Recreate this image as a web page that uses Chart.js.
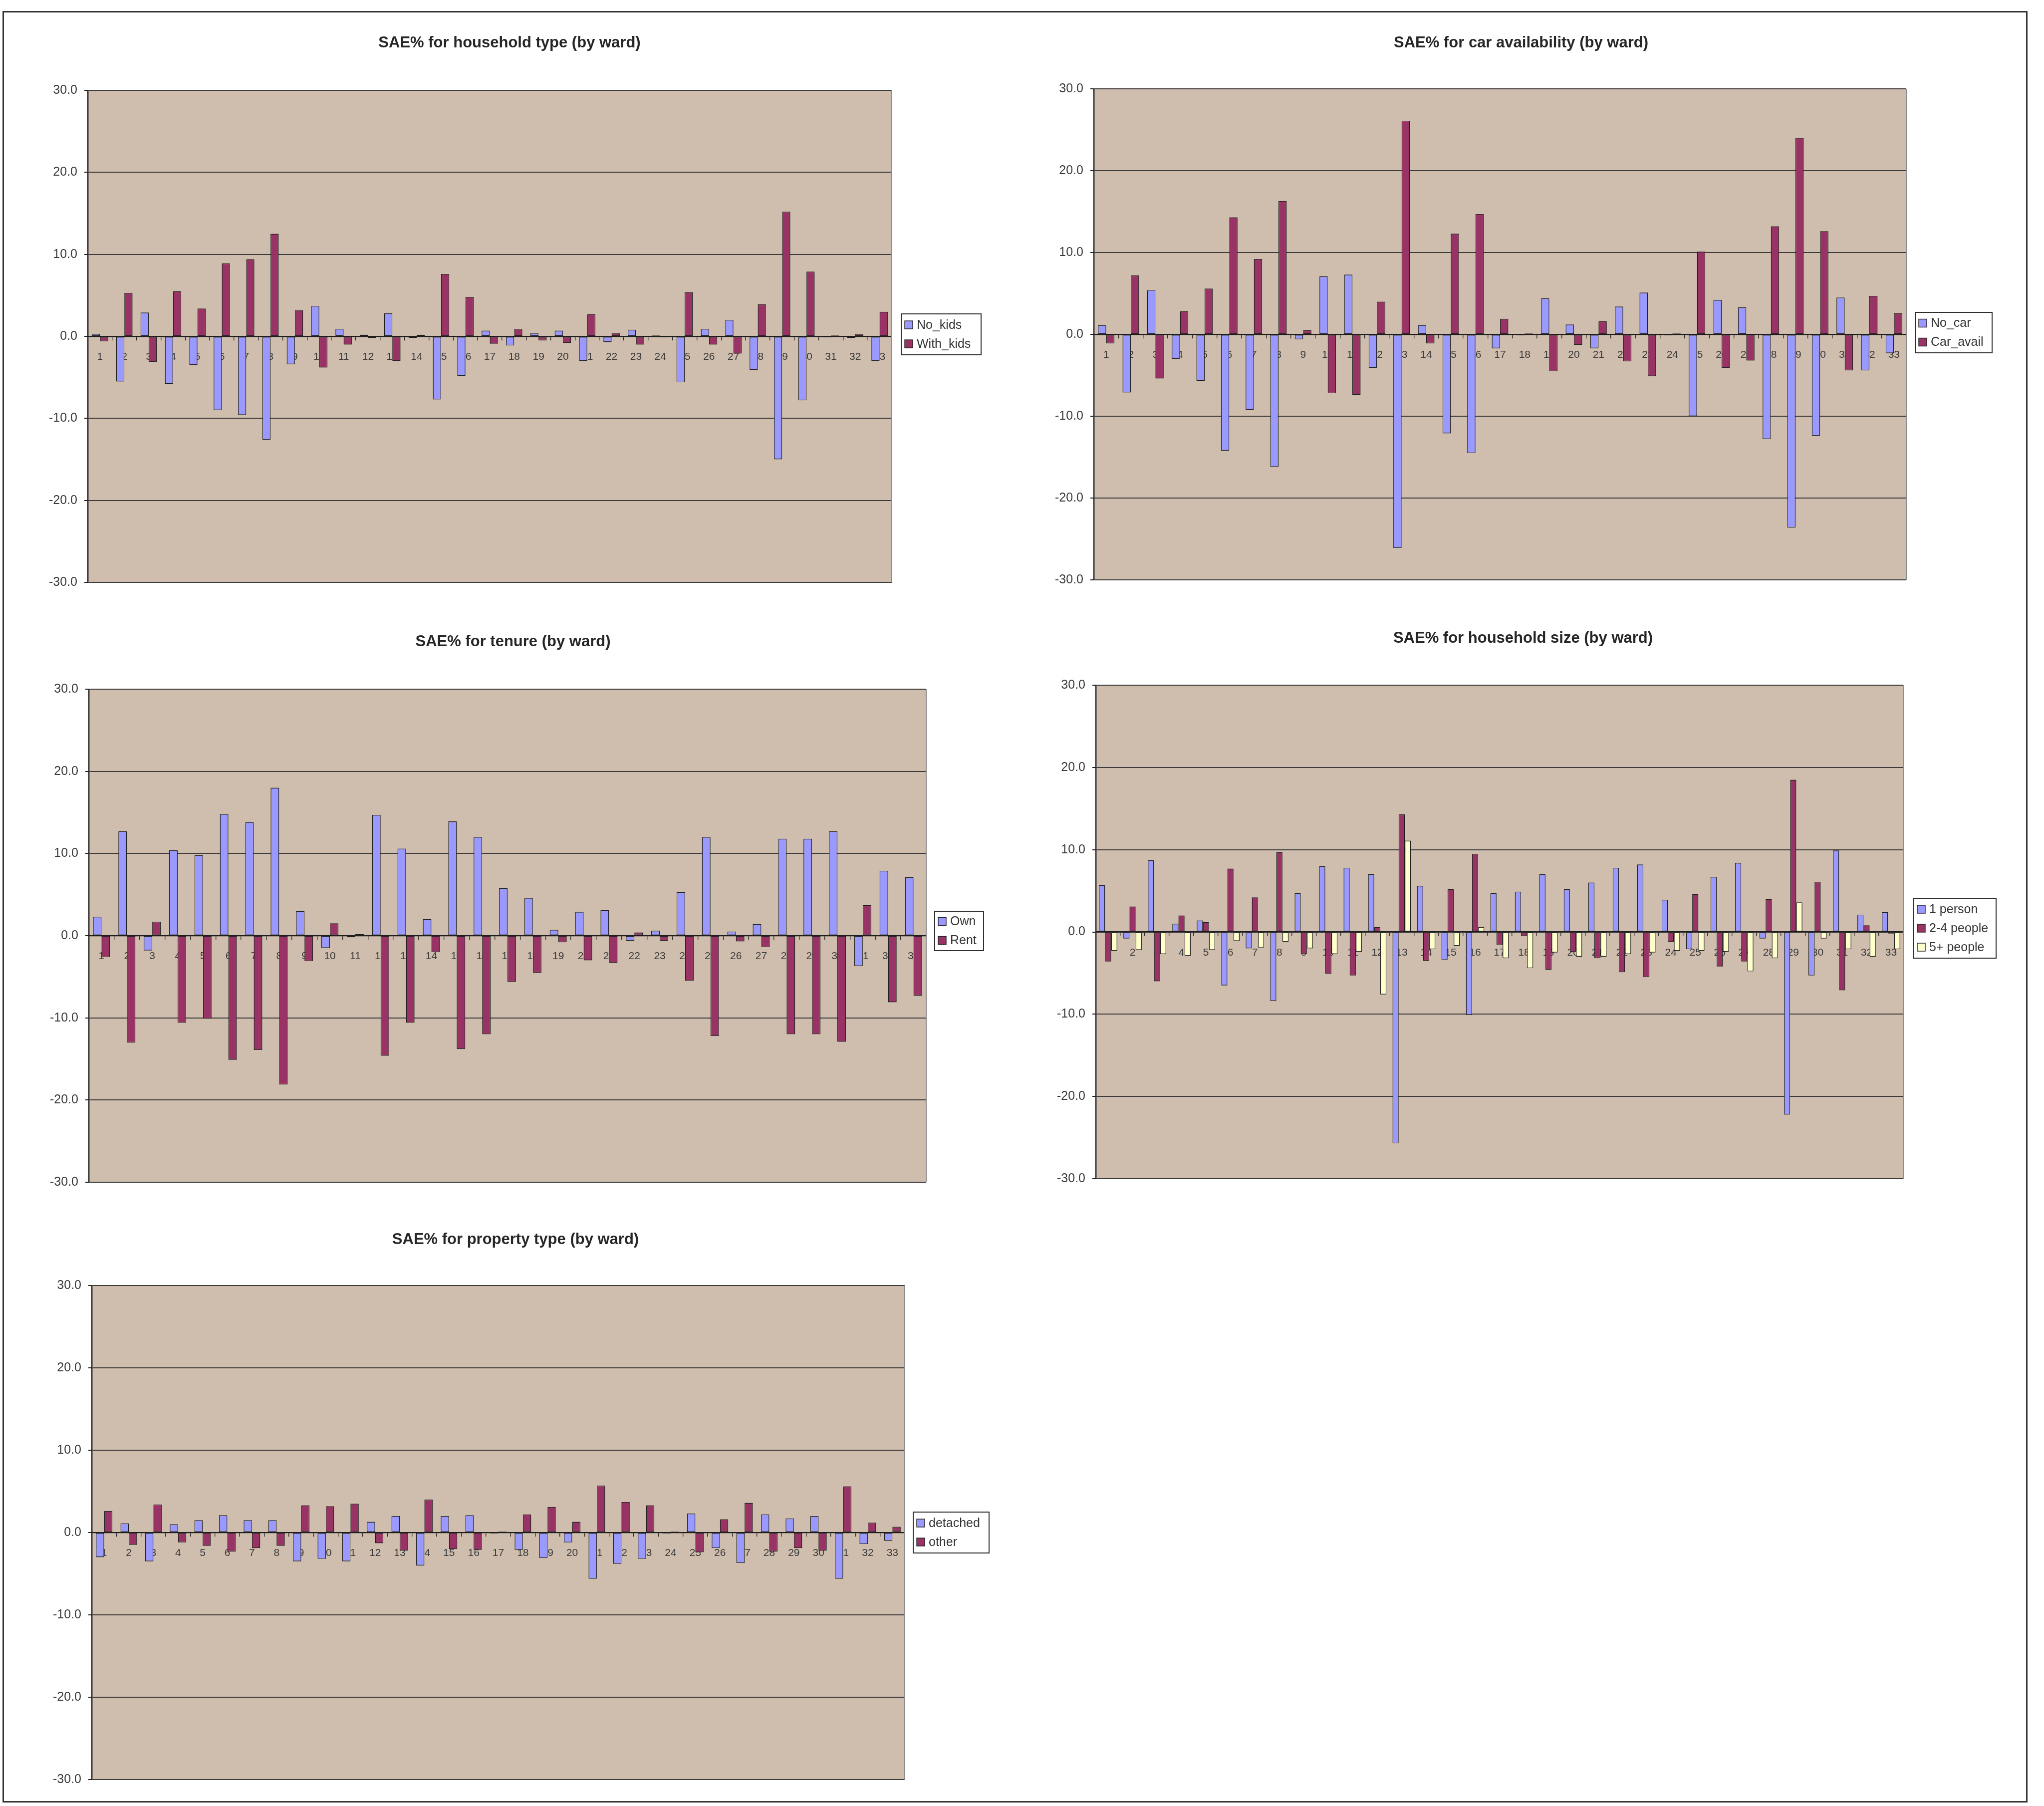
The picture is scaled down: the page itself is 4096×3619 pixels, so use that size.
<!DOCTYPE html>
<html>
<head>
<meta charset="utf-8">
<title>SAE% by ward</title>
<script src="https://cdn.jsdelivr.net/npm/chart.js@4.4.1/dist/chart.umd.min.js"></script>
<style>
  html, body { margin: 0; padding: 0; background: #ffffff; }
  #page { position: relative; width: 4096px; height: 3619px; overflow: hidden; background: #ffffff; }
  #frame { position: absolute; left: 5px; top: 22px; width: 4058px; height: 3590px;
           border: 3px solid #333333; box-sizing: border-box; }
  canvas { position: absolute; }
</style>
</head>
<body>
<div id="page">
  <div id="frame"></div>
  <canvas id="c1"></canvas>
  <canvas id="c2"></canvas>
  <canvas id="c3"></canvas>
  <canvas id="c4"></canvas>
  <canvas id="c5"></canvas>
</div>
<script>
// Ward numbers along the category axis
const wards = ['1','2','3','4','5','6','7','8','9','10','11','12','13','14','15','16','17',
               '18','19','20','21','22','23','24','25','26','27','28','29','30','31','32','33'];

// Value axis ticks
const yTickValues = [-30, -20, -10, 0, 10, 20, 30];

// Household type
const noKids   = [0.3,-5.5,2.9,-5.8,-3.5,-9.0,-9.6,-12.6,-3.4,3.7,0.9,0.2,2.8,-0.2,-7.7,-4.8,0.7,
                  -1.1,0.4,0.7,-3.0,-0.7,0.8,0.1,-5.6,0.9,2.0,-4.1,-15.0,-7.8,-0.1,-0.2,-3.0];
const withKids = [-0.6,5.3,-3.1,5.5,3.4,8.9,9.4,12.5,3.2,-3.8,-1.0,-0.2,-3.0,0.2,7.6,4.8,-0.9,
                  0.9,-0.5,-0.8,2.7,0.4,-1.0,-0.1,5.4,-1.0,-2.1,3.9,15.2,7.9,0.1,0.3,3.0];

// Car availability
const noCar    = [1.1,-7.1,5.4,-3.0,-5.7,-14.2,-9.2,-16.2,-0.6,7.1,7.3,-4.1,-26.1,1.1,-12.1,-14.5,-1.7,
                  -0.1,4.4,1.2,-1.7,3.4,5.1,-0.1,-10.0,4.2,3.3,-12.8,-23.6,-12.4,4.5,-4.4,-2.3];
const carAvail = [-1.1,7.2,-5.4,2.8,5.6,14.3,9.2,16.3,0.5,-7.2,-7.4,4.0,26.1,-1.1,12.3,14.7,1.9,
                  0.1,-4.5,-1.3,1.6,-3.3,-5.1,0.1,10.1,-4.1,-3.2,13.2,24.0,12.6,-4.4,4.7,2.6];

// Tenure
const own  = [2.3,12.7,-1.8,10.4,9.8,14.8,13.8,18.0,3.0,-1.5,-0.2,14.7,10.6,2.0,13.9,12.0,5.8,
              4.6,0.7,2.9,3.1,-0.6,0.6,5.3,12.0,0.5,1.4,11.8,11.8,12.7,-3.7,7.9,7.1];
const rent = [-2.6,-13.0,1.7,-10.6,-10.1,-15.1,-13.9,-18.1,-3.1,1.5,0.2,-14.6,-10.6,-2.0,-13.8,-12.0,-5.6,
              -4.5,-0.8,-3.0,-3.3,0.4,-0.6,-5.5,-12.2,-0.7,-1.4,-12.0,-12.0,-12.9,3.7,-8.1,-7.3];

// Household size
const onePerson = [5.7,-0.8,8.7,1.0,1.4,-6.5,-2.0,-8.4,4.7,8.0,7.8,7.0,-25.7,5.6,-3.4,-10.1,4.7,
                   4.9,7.0,5.2,6.0,7.8,8.2,3.9,-2.1,6.7,8.4,-0.8,-22.2,-5.3,9.9,2.1,2.4];
const twoToFour = [-3.6,3.1,-6.0,2.0,1.2,7.7,4.2,9.7,-2.7,-5.1,-5.3,0.6,14.3,-3.5,5.2,9.5,-1.6,
                   -0.5,-4.6,-2.4,-3.2,-4.9,-5.5,-1.2,4.6,-4.2,-3.6,4.0,18.5,6.1,-7.1,0.8,-0.2];
const fivePlus  = [-2.3,-2.2,-2.7,-2.9,-2.2,-1.1,-1.9,-1.2,-2.0,-2.7,-2.4,-7.6,11.1,-2.1,-1.7,0.6,-3.2,
                   -4.4,-2.5,-3.0,-3.0,-2.7,-2.5,-2.3,-2.3,-2.4,-4.8,-3.2,3.6,-0.8,-2.1,-3.0,-2.1];

// Property type
const detached = [-3.0,1.1,-3.5,1.0,1.5,2.1,1.5,1.5,-3.5,-3.2,-3.5,1.3,2.0,-4.0,2.0,2.1,-0.1,
                  -2.1,-3.1,-1.2,-5.6,-3.8,-3.2,-0.1,2.3,-1.9,-3.7,2.2,1.7,2.0,-5.6,-1.4,-1.0];
const other    = [2.6,-1.5,3.4,-1.2,-1.6,-2.3,-1.9,-1.6,3.3,3.2,3.5,-1.3,-2.2,4.0,-2.0,-2.1,0.1,
                  2.2,3.1,1.3,5.7,3.7,3.3,0.1,-2.4,1.6,3.6,-2.3,-1.9,-2.2,5.6,1.2,0.7];

const FONT = "'Liberation Sans', Arial, Helvetica, sans-serif";
const BLUE = '#9999ff', PLUM = '#993366', CREAM = '#ffffcc';
const PLOT_BG = '#cfbdad';
const Y_AXIS_W = 80;

// Tan plot area with a grey frame on the right
const plotBackground = {
  id: 'plotBackground',
  beforeDraw(chart) {
    const { ctx, chartArea: a } = chart;
    ctx.save();
    ctx.fillStyle = PLOT_BG;
    ctx.fillRect(a.left, a.top, a.right - a.left, a.bottom - a.top);
    ctx.restore();
  },
  beforeDatasetsDraw(chart) {
    const { ctx, chartArea: a } = chart;
    ctx.save();
    ctx.strokeStyle = '#8c8c8c';
    ctx.lineWidth = 2;
    ctx.beginPath();
    ctx.moveTo(a.right, a.top);
    ctx.lineTo(a.right, a.bottom);
    ctx.stroke();
    ctx.restore();
  }
};

// Bold heading above each panel
const panelTitle = {
  id: 'panelTitle',
  afterDraw(chart, args, opts) {
    const ctx = chart.ctx;
    ctx.save();
    ctx.font = 'bold 31px ' + FONT;
    ctx.fillStyle = '#262626';
    ctx.textAlign = 'center';
    ctx.textBaseline = 'middle';
    ctx.fillText(opts.text, opts.x, opts.y);
    ctx.restore();
  }
};

// Boxed legend to the right of the plot
const sideLegend = {
  id: 'sideLegend',
  afterDraw(chart, args, opts) {
    const ctx = chart.ctx;
    const sets = chart.data.datasets;
    const step = 38;
    ctx.save();
    ctx.fillStyle = '#ffffff';
    ctx.fillRect(opts.x, opts.y, opts.w, opts.h);
    ctx.strokeStyle = '#2e2e2e';
    ctx.lineWidth = 2;
    ctx.strokeRect(opts.x, opts.y, opts.w, opts.h);
    const first = opts.y + (opts.h - (sets.length - 1) * step) / 2;
    ctx.font = '25px ' + FONT;
    ctx.textBaseline = 'middle';
    ctx.textAlign = 'left';
    sets.forEach((ds, i) => {
      const cy = first + i * step;
      ctx.fillStyle = ds.backgroundColor;
      ctx.fillRect(opts.x + 7, cy - 8, 16, 16);
      ctx.strokeStyle = '#222222';
      ctx.lineWidth = 1.4;
      ctx.strokeRect(opts.x + 7, cy - 8, 16, 16);
      ctx.fillStyle = '#333333';
      ctx.fillText(ds.label, opts.x + 31, cy + 1);
    });
    ctx.restore();
  }
};

function drawPanel(id, box, area, title, legend, series, catPct) {
  const canvas = document.getElementById(id);
  canvas.width = box.w;
  canvas.height = box.h;
  canvas.style.left = box.x + 'px';
  canvas.style.top = box.y + 'px';
  canvas.style.width = box.w + 'px';
  canvas.style.height = box.h + 'px';

  return new Chart(canvas, {
    type: 'bar',
    data: {
      labels: wards,
      datasets: series.map(s => ({
        label: s.label,
        data: s.data,
        backgroundColor: s.color,
        borderColor: '#1e1e1e',
        borderWidth: 1.4,
        borderSkipped: false,
        categoryPercentage: catPct,
        barPercentage: 1.0
      }))
    },
    options: {
      responsive: false,
      maintainAspectRatio: false,
      animation: false,
      devicePixelRatio: 1,
      layout: {
        padding: {
          left: area.l - box.x - Y_AXIS_W,
          top: area.t - box.y,
          right: box.x + box.w - area.r,
          bottom: box.y + box.h - area.b
        }
      },
      plugins: {
        legend: { display: false },
        tooltip: { enabled: false },
        panelTitle: { text: title.text, x: title.x - box.x, y: title.y - box.y },
        sideLegend: { x: legend.x - box.x, y: legend.y - box.y, w: legend.w, h: legend.h }
      },
      scales: {
        x: {
          type: 'category',
          position: { y: 0 },
          offset: true,
          grid: {
            display: true, drawOnChartArea: false, drawTicks: true,
            tickLength: 7, offset: true, color: '#2a2a2a', lineWidth: 1.4
          },
          border: { display: true, color: '#1e1e1e', width: 2.2 },
          ticks: {
            autoSkip: false, maxRotation: 0, minRotation: 0, padding: 22,
            color: '#3a3a3a', font: { family: FONT, size: 21 }
          }
        },
        y: {
          position: 'left',
          min: yTickValues[0],
          max: yTickValues[yTickValues.length - 1],
          afterFit(scale) { scale.width = Y_AXIS_W; },
          afterBuildTicks(scale) { scale.ticks = yTickValues.map(v => ({ value: v })); },
          ticks: {
            padding: 14, color: '#3a3a3a', font: { family: FONT, size: 25 },
            callback: v => Number(v).toFixed(1)
          },
          grid: { color: '#3c3c3c', lineWidth: 2, drawTicks: true, tickLength: 7, tickColor: '#222222' },
          border: { display: true, color: '#1e1e1e', width: 2.4 }
        }
      }
    },
    plugins: [plotBackground, panelTitle, sideLegend]
  });
}

drawPanel('c1',
  { x: 0, y: 0, w: 2048, h: 1240 },
  { l: 176, t: 181, r: 1787, b: 1167 },
  { text: 'SAE% for household type (by ward)', x: 1021, y: 86 },
  { x: 1806, y: 629, w: 160, h: 82 },
  [ { label: 'No_kids', data: noKids, color: BLUE },
    { label: 'With_kids', data: withKids, color: PLUM } ], 0.67);

drawPanel('c2',
  { x: 2048, y: 0, w: 2048, h: 1240 },
  { l: 2192, t: 178, r: 3820, b: 1162 },
  { text: 'SAE% for car availability (by ward)', x: 3048, y: 86 },
  { x: 3838, y: 626, w: 154, h: 81 },
  [ { label: 'No_car', data: noCar, color: BLUE },
    { label: 'Car_avail', data: carAvail, color: PLUM } ], 0.67);

drawPanel('c3',
  { x: 0, y: 1240, w: 2048, h: 1180 },
  { l: 178, t: 1381, r: 1856, b: 2369 },
  { text: 'SAE% for tenure (by ward)', x: 1028, y: 1286 },
  { x: 1873, y: 1826, w: 98, h: 79 },
  [ { label: 'Own', data: own, color: BLUE },
    { label: 'Rent', data: rent, color: PLUM } ], 0.67);

drawPanel('c4',
  { x: 2048, y: 1240, w: 2048, h: 1180 },
  { l: 2196, t: 1373, r: 3814, b: 2362 },
  { text: 'SAE% for household size (by ward)', x: 3052, y: 1279 },
  { x: 3835, y: 1800, w: 165, h: 120 },
  [ { label: '1 person', data: onePerson, color: BLUE },
    { label: '2-4 people', data: twoToFour, color: PLUM },
    { label: '5+ people', data: fivePlus, color: CREAM } ], 0.75);

drawPanel('c5',
  { x: 0, y: 2420, w: 2048, h: 1199 },
  { l: 184, t: 2576, r: 1813, b: 3566 },
  { text: 'SAE% for property type (by ward)', x: 1033, y: 2484 },
  { x: 1830, y: 3030, w: 152, h: 82 },
  [ { label: 'detached', data: detached, color: BLUE },
    { label: 'other', data: other, color: PLUM } ], 0.67);
</script>
</body>
</html>
